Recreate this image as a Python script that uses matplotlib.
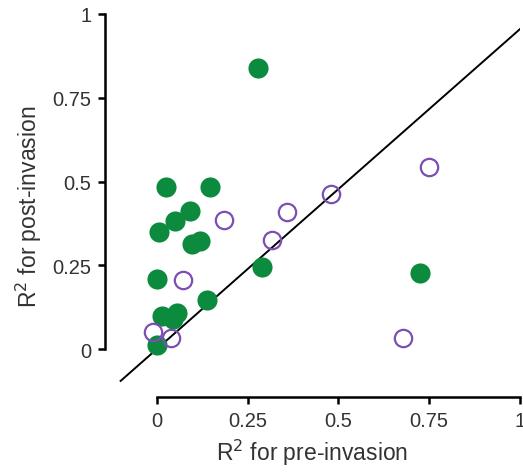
import matplotlib
matplotlib.use("Agg")
import matplotlib.pyplot as plt

plt.rcParams['font.family'] = ['Liberation Sans', 'DejaVu Sans']

# native sites (filled green)
green_x = [0.278, 0.025, 0.146, 0.091, 0.050, 0.006, 0.096, 0.118, -0.001,
           0.289, 0.137, 0.013, 0.054, 0.045, 0.001, 0.725]
green_y = [0.839, 0.484, 0.484, 0.412, 0.382, 0.348, 0.313, 0.324, 0.209,
           0.245, 0.147, 0.099, 0.109, 0.089, 0.012, 0.227]

# invaded sites (open purple)
purple_x = [0.185, 0.073, -0.010, 0.038, 0.318, 0.359, 0.479, 0.748, 0.679]
purple_y = [0.385, 0.207, 0.052, 0.032, 0.325, 0.410, 0.462, 0.544, 0.032]

line_x = [-0.10, 1.0]
line_y = [-0.095, 0.955]

ticks = [0, 0.25, 0.5, 0.75, 1]
tick_labels = ['0', '0.25', '0.5', '0.75', '1']

fig = plt.figure(figsize=(5.23, 4.77), dpi=100)
ax = fig.add_axes([0.2008, 0.1656, 0.7935, 0.803])

ax.plot(line_x, line_y, color='black', lw=1.4, zorder=1)
ax.plot(green_x, green_y, 'o', ms=14.5, color='#0c8a3e', mec='#0c8a3e',
        mew=0, zorder=2)
ax.plot(purple_x, purple_y, 'o', ms=12.5, mfc='none', mec='#7b4fb3',
        mew=1.6, zorder=3)

ax.set_xlim(-0.143, 1.0)
ax.set_ylim(-0.143, 1.0)

for side in ['top', 'right']:
    ax.spines[side].set_visible(False)
ax.spines['left'].set_position(('data', -0.143))
ax.spines['bottom'].set_position(('data', -0.143))
ax.spines['left'].set_bounds(0, 1)
ax.spines['bottom'].set_bounds(0, 1)
for side in ['left', 'bottom']:
    ax.spines[side].set_linewidth(1.8)

ax.set_xticks(ticks)
ax.set_xticklabels(tick_labels)
ax.set_yticks(ticks)
ax.set_yticklabels(tick_labels)
ax.tick_params(length=5, width=1.8, labelsize=14.5, colors='black',
               labelcolor='#333333', pad=5)

ax.set_xlabel('R$^2$ for pre-invasion', fontsize=16.5, color='#333333', labelpad=5)
ax.set_ylabel('R$^2$ for post-invasion', fontsize=16.5, color='#333333', labelpad=6)

ax.patch.set_visible(False)

fig.savefig('out.png', dpi=100)
